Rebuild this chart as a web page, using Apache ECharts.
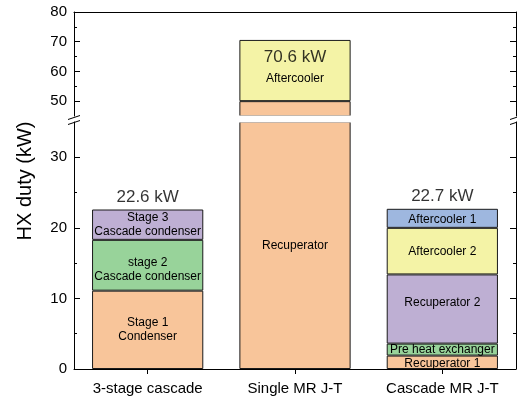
<!DOCTYPE html>
<html>
<head>
<meta charset="utf-8">
<title>HX duty</title>
<script src="https://cdn.jsdelivr.net/npm/echarts@6/dist/echarts.min.js"></script>
<style>
  html, body { margin: 0; padding: 0; background: #ffffff; }
  #chart { width: 517px; height: 399px; }
</style>
</head>
<body>
<div id="chart"></div>
<script>
// Heat-exchanger duty of each refrigeration cycle, stacked by exchanger (kW)
const categories = ['3-stage cascade', 'Single MR J-T', 'Cascade MR J-T'];

const cascadeNames = ['Stage 1\nCondenser', 'stage 2\nCascade condenser', 'Stage 3\nCascade condenser'];
const cascadeDuty = [11.1, 7.2, 4.3];

const singleMrNames = ['Recuperator', 'Aftercooler'];
const singleMrDuty = [50.0, 20.6];

const cascadeMrNames = ['Recuperator 1', 'Pre heat exchanger', 'Recuperator 2', 'Aftercooler 2', 'Aftercooler 1'];
const cascadeMrDuty = [1.9, 1.7, 9.8, 6.6, 2.7];

// Broken value axis: lower and upper ranges, with tick labels
const lowerRange = [0, 35];
const upperRange = [45, 80];
const lowerMajor = [0, 10, 20, 30];
const lowerMinor = [5, 15, 25];
const upperMajor = [50, 60, 70, 80];
const upperMinor = [55, 65, 75];

// ---- styling ----
const ORANGE = '#f8c59a', GREEN = '#98d39a', PURPLE = '#beafd3', YELLOW = '#f4f3a6', BLUE = '#9eb7df';
const segmentColors = [
  [ORANGE, GREEN, PURPLE],
  [ORANGE, YELLOW],
  [ORANGE, GREEN, PURPLE, YELLOW, BLUE]
];
const labelNudge = [
  [0, 4, 0],
  [0, 8],
  [1, 0, -6, 1, 1]
];
const FONT = '"Liberation Sans", Arial, Helvetica, sans-serif';
const INK = '#000000';

const names = [cascadeNames, singleMrNames, cascadeMrNames];
const duties = [cascadeDuty, singleMrDuty, cascadeMrDuty];
const totals = duties.map(d => Math.round(d.reduce((a, b) => a + b, 0) * 10) / 10);

// Grid geometry (px)
const LEFT = 74, RIGHT = 1, WIDTH = 517;
const UP_TOP = 12, UP_H = 104;
const LO_TOP = 122, LO_H = 247;
const AXIS_X0 = LEFT, AXIS_X1 = WIDTH - RIGHT;

function yAxesFor(gridIndex, range, major, minor, withLabels) {
  const common = {
    type: 'value', gridIndex, min: range[0], max: range[1], interval: 5,
    splitLine: { show: false }
  };
  const lineStyle = { color: '#000', width: 1 };
  return [
    Object.assign({}, common, {
      position: 'left',
      axisLine: { show: true, lineStyle },
      axisTick: { show: true, inside: true, length: 6, customValues: major, lineStyle },
      axisLabel: withLabels
        ? { show: true, customValues: major, fontSize: 15, fontFamily: FONT, color: INK, margin: 7 }
        : { show: false }
    }),
    Object.assign({}, common, {
      position: 'left',
      axisLine: { show: false },
      axisTick: { show: true, inside: true, length: 3, customValues: minor, lineStyle },
      axisLabel: { show: false }
    }),
    Object.assign({}, common, {
      position: 'right',
      axisLine: { show: true, lineStyle },
      axisTick: { show: true, inside: true, length: 6, customValues: major, lineStyle },
      axisLabel: { show: false }
    }),
    Object.assign({}, common, {
      position: 'right',
      axisLine: { show: false },
      axisTick: { show: true, inside: true, length: 3, customValues: minor, lineStyle },
      axisLabel: { show: false }
    })
  ];
}

const grids = [
  { left: LEFT, right: RIGHT, top: UP_TOP, height: UP_H, range: upperRange },
  { left: LEFT, right: RIGHT, top: LO_TOP, height: LO_H, range: lowerRange }
];

const maxLevels = Math.max(...duties.map(d => d.length));
const series = [];

grids.forEach((g, gi) => {
  for (let level = 0; level < maxLevels; level++) {
    series.push({
      type: 'bar',
      xAxisIndex: gi,
      yAxisIndex: gi * 4,
      stack: 'duty' + gi,
      barWidth: '75.5%',
      clip: true,
      itemStyle: { borderColor: '#1a1a1a', borderWidth: 1 },
      label: {
        show: false, position: 'inside', fontSize: 12, lineHeight: 14,
        fontFamily: FONT, color: INK
      },
      emphasis: { disabled: true },
      data: categories.map((c, k) => {
        if (level >= duties[k].length) return '-';
        const base = duties[k].slice(0, level).reduce((a, b) => a + b, 0);
        const visible = base >= g.range[0] && base < g.range[1];
        return {
          value: duties[k][level],
          itemStyle: { color: segmentColors[k][level] },
          label: {
            show: visible,
            formatter: names[k][level],
            offset: [0, labelNudge[k][level]]
          }
        };
      })
    });
  }
});

// Total duty annotations: above the bar when it fits the lower range,
// otherwise inside the top of the bar in the upper range
const totalLabel = {
  show: true, fontSize: 17, fontFamily: FONT, color: INK,
  formatter: p => p.value.toFixed(1) + ' kW'
};
series.push({
  type: 'scatter', xAxisIndex: 1, yAxisIndex: 4, symbolSize: 0.1,
  itemStyle: { color: '#000' },
  silent: true,
  label: Object.assign({ position: 'top', distance: 4 }, totalLabel),
  data: totals.map(t => (t <= lowerRange[1] ? t : '-'))
});
series.push({
  type: 'scatter', xAxisIndex: 0, yAxisIndex: 0, symbolSize: 0.1,
  itemStyle: { color: '#000' },
  silent: true,
  label: Object.assign({ position: 'bottom', distance: 9 }, totalLabel),
  data: totals.map(t => (t > lowerRange[1] ? t : '-'))
});

// Axis break: white band over the gap, then the slanted marks on both sides
const gapTop = UP_TOP + UP_H, gapBottom = LO_TOP;
function breakMarks(x) {
  return [
    { type: 'line', z: 120, shape: { x1: x - 6, y1: gapTop + 3.5, x2: x + 6, y2: gapTop - 0.5 },
      style: { stroke: '#000', lineWidth: 1 } },
    { type: 'line', z: 120, shape: { x1: x - 6, y1: gapBottom + 2.5, x2: x + 6, y2: gapBottom - 1.5 },
      style: { stroke: '#000', lineWidth: 1 } }
  ];
}

const option = {
  backgroundColor: '#ffffff',
  animation: false,
  grid: grids.map(g => ({ left: g.left, right: g.right, top: g.top, height: g.height, containLabel: false })),
  xAxis: [
    {
      type: 'category', gridIndex: 0, data: categories, position: 'top',
      axisLine: { show: true, lineStyle: { color: '#000', width: 1 } },
      axisTick: { show: false }, axisLabel: { show: false }, splitLine: { show: false }
    },
    {
      type: 'category', gridIndex: 1, data: categories, position: 'bottom',
      axisLine: { show: true, lineStyle: { color: '#000', width: 1 } },
      axisTick: { show: true, alignWithLabel: true, length: 5, lineStyle: { color: '#000' } },
      axisLabel: { fontSize: 15, fontFamily: FONT, color: INK, margin: 12 },
      splitLine: { show: false }
    }
  ],
  yAxis: [
    ...yAxesFor(0, upperRange, upperMajor, upperMinor, true),
    ...yAxesFor(1, lowerRange, lowerMajor, lowerMinor, true)
  ],
  series,
  graphic: [
    {
      type: 'rect', z: 110, silent: true,
      shape: { x: AXIS_X0 + 1, y: gapTop - 0.5, width: AXIS_X1 - AXIS_X0 - 2, height: gapBottom - gapTop + 1 },
      style: { fill: '#ffffff' }
    },
    ...breakMarks(AXIS_X0),
    ...breakMarks(AXIS_X1),
    {
      type: 'text', z: 120, silent: true,
      x: 25, y: 181, rotation: Math.PI / 2,
      style: {
        text: 'HX duty (kW)', fontSize: 20, fontFamily: FONT, fill: INK,
        align: 'center', verticalAlign: 'middle'
      }
    }
  ]
};

const chart = echarts.init(document.getElementById('chart'), null, { renderer: 'canvas' });
chart.setOption(option);
</script>
</body>
</html>
